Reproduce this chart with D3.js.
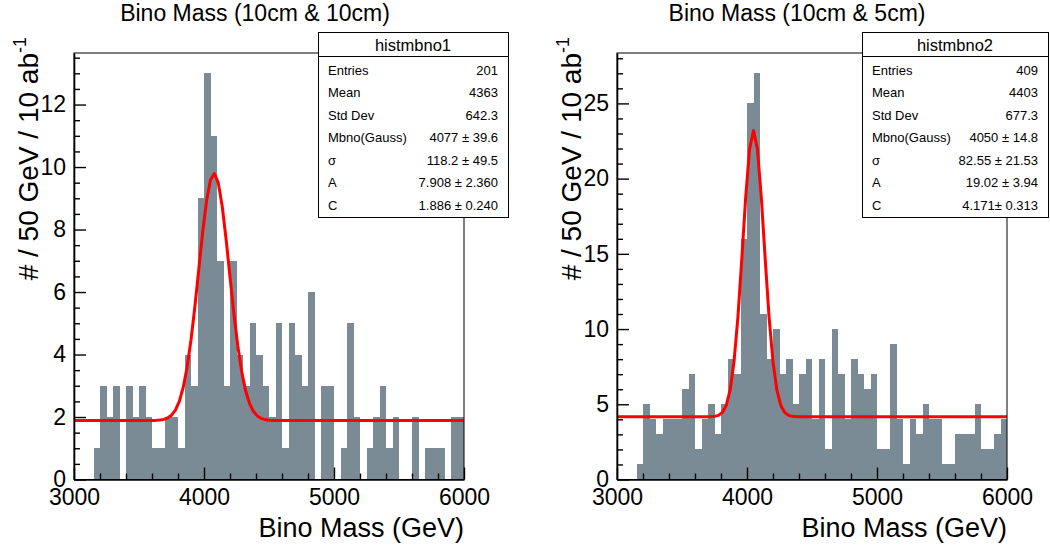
<!DOCTYPE html>
<html><head><meta charset="utf-8">
<script src="https://cdn.jsdelivr.net/npm/d3@7"></script>
<style>
body{margin:0;background:#fff}
svg{display:block}
text{font-family:"Liberation Sans",Arial,Helvetica,sans-serif;fill:#000}
</style>
</head><body>
<svg id="chart" width="1050" height="549"></svg>
<script>
// ---------- data ----------
const binLow = d3.range(3000, 6000, 50);   // 60 bins of 50 GeV
const counts1 = [0,0,0,1,3,2,3,0,3,2, 3,2,1,1,2,2,1,4,3,9, 13,11,7,3,7,4,3,5,4,3, 2,5,1,5,4,3,6,0,3,3, 0,1,5,2,0,1,2,3,1,2, 0,0,2,0,1,1,1,0,2,2];
const counts2 = [0,0,0,1,5,4,3,4,4,4, 6,7,2,4,5,3,5,8,7,16, 25,27,11,8,10,7,8,5,7,8, 4,8,2,10,7,4,8,7,6,7, 2,2,9,4,1,4,3,5,4,4, 1,1,3,3,3,5,2,2,3,4];
const titles = ["Bino Mass (10cm & 10cm)", "Bino Mass (10cm & 5cm)"];
const histNames = ["histmbno1", "histmbno2"];
const statNames = ["Entries","Mean","Std Dev","Mbno(Gauss)","\u03C3","A","C"];
const stats1 = ["201","4363","642.3","4077 \u00B1 39.6","118.2 \u00B1 49.5","7.908 \u00B1 2.360","1.886 \u00B1 0.240"];
const stats2 = ["409","4403","677.3","4050 \u00B1 14.8","82.55 \u00B1 21.53","19.02 \u00B1 3.94","4.171\u00B1 0.313"];
const fit1 = [4077, 118.2, 7.908, 1.886];   // mean, sigma, A, C
const fit2 = [4050, 82.55, 19.02, 4.171];
const xTicks = [3000, 4000, 5000, 6000];
const yTicks1 = [0, 2, 4, 6, 8, 10, 12];
const yTicks2 = [0, 5, 10, 15, 20, 25];
const yMax1 = 13.65, yMax2 = 28.35;
const xTitle = "Bino Mass (GeV)";
const yTitle = "# / 50 GeV / 10 ab";

// ---------- layout ----------
const svg = d3.select("#chart");
const panels = [
  {x0: 74, x1: 464, counts: counts1, fit: fit1, stats: stats1, yTicks: yTicks1, yMinor: 0.5, yMax: yMax1,
   title: titles[0], titleX: 255, name: histNames[0], box: [318, 508], yTitleX: 38},
  {x0: 617, x1: 1007, counts: counts2, fit: fit2, stats: stats2, yTicks: yTicks2, yMinor: 1, yMax: yMax2,
   title: titles[1], titleX: 797, name: histNames[1], box: [862, 1048], yTitleX: 581}
];
const yTop = 53, yBot = 479.5;
const barColor = "#7a8b96";

panels.forEach(p => {
  const g = svg.append("g");
  const x = d3.scaleLinear().domain([3000, 6000]).range([p.x0, p.x1]);
  const y = d3.scaleLinear().domain([0, p.yMax]).range([yBot, yTop]);

  // bars
  g.append("g").selectAll("rect").data(p.counts).join("rect")
    .attr("x", (d, i) => x(binLow[i]))
    .attr("width", (d, i) => x(binLow[i] + 50) - x(binLow[i]))
    .attr("y", d => y(d))
    .attr("height", d => y(0) - y(d))
    .attr("fill", barColor)
    .attr("shape-rendering", "crispEdges");

  // fit function (Gaussian + constant), drawn as ROOT polyline
  const [mu, sg, A, C] = p.fit;
  const fx = d3.range(0, 101).map(i => 3000 + i * 30);
  const line = d3.line().x(d => x(d)).y(d => y(A * Math.exp(-0.5 * ((d - mu) / sg) ** 2) + C));
  g.append("path").datum(fx).attr("d", line)
    .attr("fill", "none").attr("stroke", "#ff0000").attr("stroke-width", 3)
    .attr("stroke-linejoin", "round");

  // frame
  g.append("rect").attr("x", p.x0).attr("y", yTop).attr("width", p.x1 - p.x0).attr("height", yBot - yTop)
    .attr("fill", "none").attr("stroke", "#000").attr("stroke-width", 1);

  // x axis
  const xMinor = d3.range(3000, 6001, 200).filter(v => v % 1000 !== 0);
  const xa = g.append("g").attr("transform", `translate(0,${yBot})`)
    .call(d3.axisBottom(x).tickValues(xTicks).tickFormat(d3.format("d")).tickSizeInner(-12).tickSizeOuter(0).tickPadding(9));
  xa.select(".domain").attr("stroke-width", 1.6);
  xa.selectAll("text").attr("font-size", 23).attr("dy", "0.71em");
  xa.selectAll("line").attr("stroke-width", 1.4);
  const xm = g.append("g").attr("transform", `translate(0,${yBot})`)
    .call(d3.axisBottom(x).tickValues(xMinor).tickFormat("").tickSizeInner(-6).tickSizeOuter(0));
  xm.select(".domain").remove();
  xm.selectAll("line").attr("stroke-width", 1.4);

  // y axis
  const yMinor = d3.range(0, p.yMax, p.yMinor).filter(v => !p.yTicks.includes(v));
  const ya = g.append("g").attr("transform", `translate(${p.x0},0)`)
    .call(d3.axisLeft(y).tickValues(p.yTicks).tickFormat(d3.format("d")).tickSizeInner(-12).tickSizeOuter(0).tickPadding(8));
  ya.select(".domain").attr("stroke-width", 1.6);
  ya.selectAll("text").attr("font-size", 23);
  ya.selectAll("line").attr("stroke-width", 1.4);
  const ym = g.append("g").attr("transform", `translate(${p.x0},0)`)
    .call(d3.axisLeft(y).tickValues(yMinor).tickFormat("").tickSizeInner(-6).tickSizeOuter(0));
  ym.select(".domain").remove();
  ym.selectAll("line").attr("stroke-width", 1.4);

  // titles
  g.append("text").attr("x", p.titleX).attr("y", 21).attr("text-anchor", "middle")
    .attr("font-size", 23).text(p.title);
  g.append("text").attr("x", p.x1).attr("y", 537).attr("text-anchor", "end")
    .attr("font-size", 27).text(xTitle);
  const yt = g.append("text").attr("transform", `translate(${p.yTitleX},37) rotate(-90)`)
    .attr("text-anchor", "end").attr("font-size", 28);
  yt.append("tspan").text(yTitle);
  yt.append("tspan").attr("font-size", 18).attr("dy", -12).text("-1");

  // stats box
  const [bx0, bx1] = p.box;
  const sb = g.append("g");
  sb.append("rect").attr("x", bx0 + 0.5).attr("y", 32.5).attr("width", bx1 - bx0).attr("height", 185)
    .attr("fill", "#fff").attr("stroke", "#000").attr("stroke-width", 1);
  sb.append("line").attr("x1", bx0).attr("x2", bx1).attr("y1", 56.5).attr("y2", 56.5)
    .attr("stroke", "#000").attr("stroke-width", 1);
  sb.append("text").attr("x", (bx0 + bx1) / 2).attr("y", 50.5).attr("text-anchor", "middle")
    .attr("font-size", 16.5).text(p.name);
  statNames.forEach((n, i) => {
    const yy = 74.5 + i * 22.5;
    sb.append("text").attr("x", bx0 + 10).attr("y", yy).attr("font-size", 13).text(n);
    sb.append("text").attr("x", bx1 - 10).attr("y", yy).attr("text-anchor", "end").attr("font-size", 13).text(p.stats[i]);
  });
});
</script>
</body></html>
